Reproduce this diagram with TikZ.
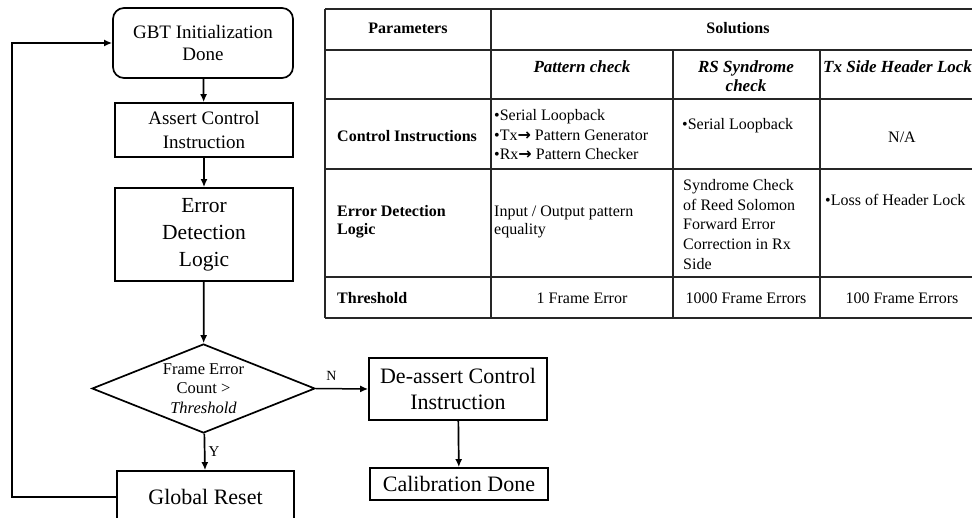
\documentclass[tikz,border=0pt]{standalone}
\usepackage{fontspec}
\setmainfont{Liberation Serif}
\newfontfamily\dejavu{DejaVu Sans}
\usetikzlibrary{shapes.geometric,arrows.meta}
\begin{document}
\begin{tikzpicture}[x=1pt,y=-1pt,
  fbox/.style={draw, line width=1.7pt, align=center, inner sep=0pt, minimum width=178pt},
  arr/.style={-{Latex[length=8pt,width=7pt]}, line width=1.7pt},
  tline/.style={line width=1.4pt, draw=black!85},
  tfont/.style={font=\fontsize{16}{19.5}\selectfont, inner sep=0pt},
  tbold/.style={tfont, font=\fontsize{16}{18.5}\selectfont\bfseries},
  thead/.style={tfont, font=\fontsize{17}{18.5}\selectfont\bfseries\itshape}]
\useasboundingbox (0,0) rectangle (972,518);
\clip (0,0) rectangle (972,518);
% ---------- flowchart ----------
\node[fbox, rounded corners=11pt, minimum width=180pt, minimum height=70pt,
  font=\fontsize{19}{22.5}\selectfont] (gbt) at (203,43) {GBT Initialization\\Done};
\node[fbox, minimum height=54pt, font=\fontsize{19}{23.5}\selectfont] (ac) at (204,130) {Assert Control\\Instruction};
\node[fbox, minimum height=93pt, font=\fontsize{21.5}{27}\selectfont] (ed) at (204,234.5) {Error\\Detection\\Logic};
\node[draw, diamond, line width=1.7pt, aspect=2.5, minimum width=223pt, minimum height=89pt,
  inner sep=0pt, align=center, font=\fontsize{16.5}{19.5}\selectfont] (dec) at (203.5,388.5)
  {Frame Error\\Count >\\\textit{Threshold}};
\node[fbox, minimum width=177pt, minimum height=52pt, font=\fontsize{22}{26}\selectfont] (gr) at (205.5,497) {Global Reset};
\node[fbox, minimum height=62pt, font=\fontsize{22}{26}\selectfont] (da) at (458,389) {De-assert Control\\Instruction};
\node[fbox, minimum height=32pt, font=\fontsize{22}{26}\selectfont] (cd) at (459,484) {Calibration Done};
\coordinate (lc) at (12,43);
\draw[arr] (gbt) -- (ac);
\draw[arr] (ac) -- (ed);
\draw[arr] (ed) -- (dec);
\draw[arr] (dec) -- node[right, font=\fontsize{15}{18}\selectfont, inner sep=3pt] (ylab) {Y} (gr);
\draw[arr, line width=1.5pt] (dec.east) -- node[above, pos=0.3, font=\fontsize{14}{16}\selectfont, inner sep=7pt] (nlab) {N} (da.west);
\draw[arr] (da) -- (cd);
\draw[arr] (gr.west) -| (lc) -- (gbt.west);
% ---------- table ----------
\draw[tline, line width=1.8pt] (325,9) -- (985,9);
\draw[tline] (325,50) -- (985,50);
\draw[tline] (325,99) -- (985,99);
\draw[tline] (325,169) -- (985,169);
\draw[tline] (325,277) -- (985,277);
\draw[tline, line width=1.8pt] (325,318) -- (985,318);
\draw[tline, line width=1.8pt] (325,9) -- (325,318);
\draw[tline] (491,9) -- (491,318);
\draw[tline] (673,50) -- (673,318);
\draw[tline] (820,50) -- (820,318);
% header
\node[tbold] (tpar) at (408,28) {Parameters};
\node[tbold] (tsol) at (738,28) {Solutions};
\node[thead] (tpc) at (582,67) {Pattern check};
\node[thead, align=center] (trs) at (746,76) {RS Syndrome\\check};
\node[thead, anchor=west] (ttx) at (823,67) {Tx Side Header Lock};
% control instructions
\node[tbold, anchor=west] (tci) at (337,136) {Control Instructions};
\node[tfont, anchor=west, align=left] (tci2) at (494,135)
  {•Serial Loopback\\•Tx{\dejavu\bfseries →} Pattern Generator\\•Rx{\dejavu\bfseries →} Pattern Checker};
\node[tfont, anchor=west] (tci3) at (682,126) {•Serial Loopback};
\node[tfont] (tci4) at (902,137) {N/A};
% error detection
\node[tbold, anchor=west, align=left] (tel) at (337,221.5) {Error Detection\\Logic};
\node[tfont, anchor=west, align=left, font=\fontsize{16}{18}\selectfont] (tel2) at (494,221.5) {Input / Output pattern\\equality};
\node[tfont, anchor=west, align=left, font=\fontsize{16}{19.8}\selectfont] (tel3) at (683,224.5)
  {Syndrome Check\\of Reed Solomon\\Forward Error\\Correction in Rx\\Side};
\node[tfont, anchor=west] (tel4) at (825,200) {•Loss of Header Lock};
% threshold
\node[tbold, anchor=west] (tth) at (337,298) {Threshold};
\node[tfont] (tth2) at (582,298) {1 Frame Error};
\node[tfont] (tth3) at (746,298) {1000 Frame Errors};
\node[tfont] (tth4) at (902,298) {100 Frame Errors};
\end{tikzpicture}
\end{document}
